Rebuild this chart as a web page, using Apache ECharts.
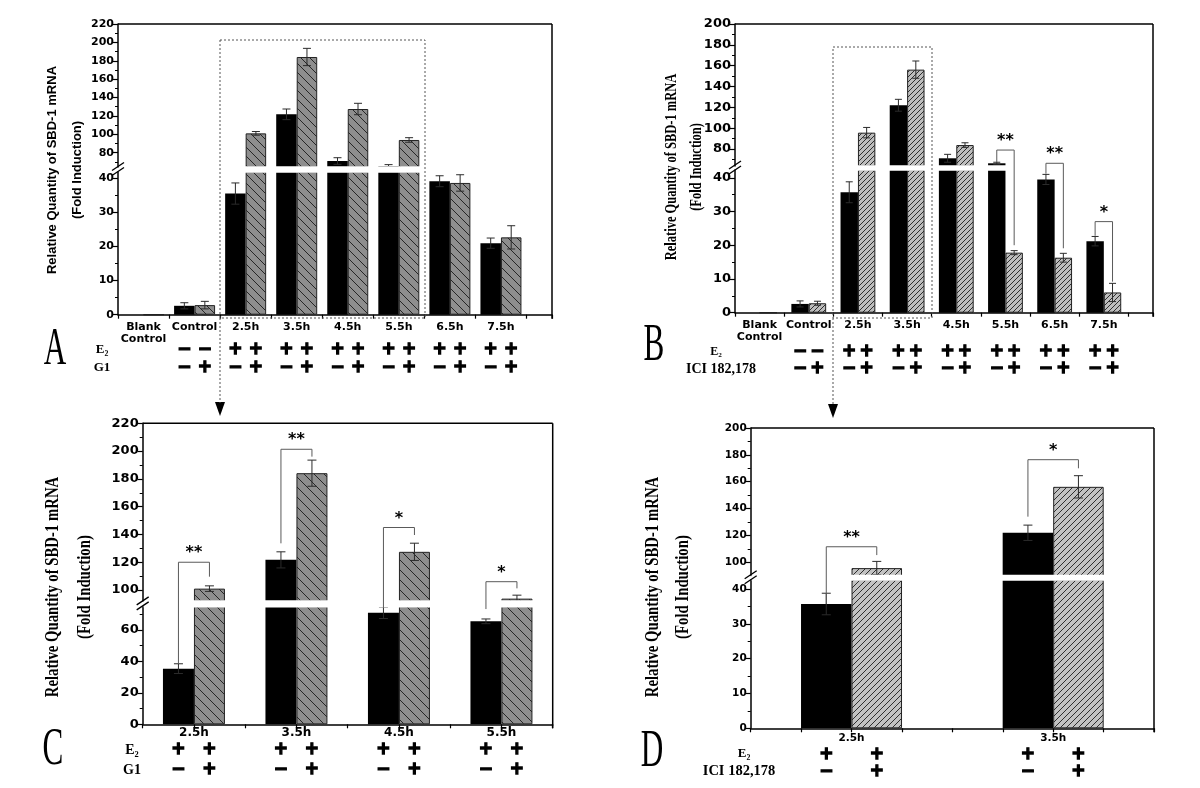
<!DOCTYPE html>
<html>
<head>
<meta charset="utf-8">
<script src="https://cdn.jsdelivr.net/npm/echarts@6/dist/echarts.min.js"></script>
<style>
html, body { margin: 0; padding: 0; background: #fff; }
#main { width: 1200px; height: 788px; }
</style>
</head>
<body>
<div id="main"></div>
<script>
// categories
var timeCats = ['Blank\nControl', 'Control', '2.5h', '3.5h', '4.5h', '5.5h', '6.5h', '7.5h'];

// E2 +/- G1 (panels A and C)
var g1Black = [0, 2.6, 35.4, 121.7, 70.9, 65.5, 39.0, 20.9];
var g1BlackErr = [0, 0.9, 3.1, 5.8, 3.6, 1.5, 1.6, 1.5];
var g1Hatch = [0, 2.8, 101, 184.1, 127.5, 93.8, 38.5, 22.6];
var g1HatchErr = [0, 1.1, 2, 9.4, 6.2, 2.5, 2.4, 3.4];

// E2 +/- ICI 182,178 (panels B and D)
var iciBlack = [0, 2.6, 35.7, 122, 71.1, 66.3, 39.5, 21.2];
var iciBlackErr = [0, 0.9, 3.1, 5.7, 3.8, 1, 1.5, 1.4];
var iciHatch = [0, 2.8, 95.7, 156.2, 83.8, 17.8, 16.3, 6.0];
var iciHatchErr = [0, 0.6, 5, 8.3, 2.2, 0.6, 1.3, 2.7];

// treatment rows under the axis
var e2Row = [['', ''], ['\u2212', '\u2212'], ['+', '+'], ['+', '+'], ['+', '+'], ['+', '+'], ['+', '+'], ['+', '+']];
var drugRow = [['', ''], ['\u2212', '+'], ['\u2212', '+'], ['\u2212', '+'], ['\u2212', '+'], ['\u2212', '+'], ['\u2212', '+'], ['\u2212', '+']];

// tick labels
var upTicksA = [80, 100, 120, 140, 160, 180, 200, 220];
var lowTicksA = [0, 10, 20, 30, 40];
var upTicksB = [80, 100, 120, 140, 160, 180, 200];
var lowTicksB = [0, 10, 20, 30, 40];
var upTicksC = [100, 120, 140, 160, 180, 200, 220];
var lowTicksC = [0, 20, 40, 60];
var upTicksD = [100, 120, 140, 160, 180, 200];
var lowTicksD = [0, 10, 20, 30, 40];

// significance brackets: [category, level, left foot, right foot, stars]
var bracketsB = [[5, 79, 67.5, 20, '**'], [6, 66.3, 41.2, 19.1, '**'], [7, 27, 22.8, 9.2, '*']];
var bracketsC = [[0, 120, 38.6, 109.6, '**'], [1, 201.3, 133.6, 196, '**'], [2, 145, 74, 139.6, '*'], [3, 106, 73.3, 101.2, '*']];
var bracketsD = [[0, 111.6, 35.7, 105.4, '**'], [1, 176.4, 134, 170, '*']];

function hatch(bg, fg, step, forward) {
    var c = document.createElement('canvas');
    c.width = step; c.height = step;
    var ctx = c.getContext('2d');
    ctx.fillStyle = bg;
    ctx.fillRect(0, 0, step, step);
    ctx.strokeStyle = fg;
    ctx.lineWidth = 1;
    ctx.beginPath();
    if (forward) {
        ctx.moveTo(-1, step + 1); ctx.lineTo(step + 1, -1);
        ctx.moveTo(-2, 2); ctx.lineTo(2, -2);
        ctx.moveTo(step - 2, step + 2); ctx.lineTo(step + 2, step - 2);
    } else {
        ctx.moveTo(-1, -1); ctx.lineTo(step + 1, step + 1);
        ctx.moveTo(-2, step - 2); ctx.lineTo(2, step + 2);
        ctx.moveTo(step - 2, -2); ctx.lineTo(step + 2, 2);
    }
    ctx.stroke();
    return c;
}

function steps(from, to, d) {
    var out = [];
    for (var v = from; v <= to + 1e-9; v += d) out.push(Math.round(v * 100) / 100);
    return out;
}

function minorOf(ticks, min, max) {
    var d = ticks[1] - ticks[0], out = [];
    ticks.concat([ticks[0] - d]).forEach(function (t) {
        var m = t + d / 2;
        if (m > min && m < max) out.push(m);
    });
    return out;
}

var panels = [
    {   // A
        left: 118, right: 552, upTop: 24, upBottom: 167, lowTop: 172, lowBottom: 314.7,
        upMin: 64.4, upMax: 220, lowMax: 41.7, xMax: 8, xTicks: steps(-0.5, 7.5, 1).concat([8]),
        barPx: 20.5, cap: 4, cats: timeCats, idx: [0, 8],
        black: g1Black, blackErr: g1BlackErr, hat: g1Hatch, hatErr: g1HatchErr,
        upTicks: upTicksA, lowTicks: lowTicksA, tickFont: 11, catFont: 11, catMargin: 6,
        pattern: hatch('#8e8e8e', '#262626', 9, false), brackets: [],
        rowY: [350, 368], drug: 'G1'
    },
    {   // B
        left: 735, right: 1153, upTop: 24, upBottom: 166, lowTop: 170, lowBottom: 312.7,
        upMin: 63.7, upMax: 200, lowMax: 42.3, xMax: 8, xTicks: steps(-0.5, 7.5, 1).concat([8]),
        barPx: 17.4, cap: 3.5, cats: timeCats, idx: [0, 8],
        black: iciBlack, blackErr: iciBlackErr, hat: iciHatch, hatErr: iciHatchErr,
        upTicks: upTicksB, lowTicks: lowTicksB, tickFont: 13, catFont: 11, catMargin: 6,
        pattern: hatch('#bdbdbd', '#2e2e2e', 5, true), brackets: bracketsB,
        rowY: [352, 369], drug: 'ICI 182,178'
    },
    {   // C
        left: 142.7, right: 552.7, upTop: 423.3, upBottom: 601, lowTop: 606.7, lowBottom: 724.3,
        upMin: 92.1, upMax: 220, lowMax: 74.8, xMax: 3.5, xTicks: steps(-0.5, 3.5, 0.5),
        barPx: 31, cap: 4.5, cats: timeCats.slice(2, 6), idx: [2, 6],
        black: g1Black, blackErr: g1BlackErr, hat: g1Hatch, hatErr: g1HatchErr,
        upTicks: upTicksC, lowTicks: lowTicksC, tickFont: 13, catFont: 12, catMargin: 2,
        pattern: hatch('#8e8e8e', '#262626', 10, false), brackets: bracketsC,
        rowY: [750, 770], drug: 'G1'
    },
    {   // D
        left: 750.7, right: 1154, upTop: 428, upBottom: 575.5, lowTop: 580, lowBottom: 728.3,
        upMin: 90.2, upMax: 200, lowMax: 42.6, xMax: 1.5, xTicks: steps(-0.5, 1.5, 0.25),
        barPx: 50.5, cap: 4.5, cats: timeCats.slice(2, 4), idx: [2, 4],
        black: iciBlack, blackErr: iciBlackErr, hat: iciHatch, hatErr: iciHatchErr,
        upTicks: upTicksD, lowTicks: lowTicksD, tickFont: 10.5, catFont: 10.5, catMargin: 4,
        pattern: hatch('#c2c2c2', '#2e2e2e', 6, true), brackets: bracketsD,
        rowY: [755, 772], drug: 'ICI 182,178'
    }
];

function errRenderer(cap) {
    return function (params, api) {
        var x = api.value(0), v = api.value(1), e = api.value(2);
        var hi = api.coord([x, v + e]), lo = api.coord([x, v - e]);
        function seg(x1, y1, x2, y2) {
            return { type: 'line', shape: { x1: x1, y1: y1, x2: x2, y2: y2 }, style: { stroke: '#2b2b2b', lineWidth: 1 } };
        }
        return {
            type: 'group',
            children: [
                seg(hi[0], hi[1], lo[0], lo[1]),
                seg(hi[0] - cap, hi[1], hi[0] + cap, hi[1]),
                seg(lo[0] - cap, lo[1], lo[0] + cap, lo[1])
            ]
        };
    };
}

var grids = [], xAxes = [], yAxes = [], series = [];

panels.forEach(function (p, k) {
    var black = p.black.slice(p.idx[0], p.idx[1]);
    var blackErr = p.blackErr.slice(p.idx[0], p.idx[1]);
    var hat = p.hat.slice(p.idx[0], p.idx[1]);
    var hatErr = p.hatErr.slice(p.idx[0], p.idx[1]);
    var width = p.right - p.left;
    var unit = p.barPx / (width / (p.xMax + 0.5));
    p.unit = unit;
    p.n = black.length;

    var parts = [
        { top: p.upTop, height: p.upBottom - p.upTop, min: p.upMin, max: p.upMax, ticks: p.upTicks, upper: true },
        { top: p.lowTop, height: p.lowBottom - p.lowTop, min: 0, max: p.lowMax, ticks: p.lowTicks, upper: false }
    ];
    parts.forEach(function (part, j) {
        var g = grids.length;
        grids.push({ left: p.left, top: part.top, width: width, height: part.height, show: false });
        var catVals = black.map(function (v, i) { return i; });
        xAxes.push({
            gridIndex: g, type: 'value', min: -0.5, max: p.xMax, show: !part.upper,
            axisLine: { onZero: false, lineStyle: { color: '#000', width: 1.5 } },
            axisTick: { customValues: p.xTicks, length: 4, lineStyle: { color: '#000', width: 1.2 } },
            axisLabel: {
                customValues: catVals, margin: p.catMargin, color: '#000',
                fontFamily: 'DejaVu Sans', fontWeight: 'bold', fontSize: p.catFont, lineHeight: p.catFont + 1,
                formatter: function (v) { return p.cats[Math.round(v)]; }
            },
            splitLine: { show: false }
        });
        var ya = yAxes.length;
        yAxes.push({
            gridIndex: g, type: 'value', position: 'left', min: part.min, max: part.max,
            axisLine: { show: true, onZero: false, lineStyle: { color: '#000', width: 1.5 } },
            axisTick: { customValues: part.ticks, length: 5, lineStyle: { color: '#000', width: 1.2 } },
            axisLabel: {
                customValues: part.ticks, margin: 4, color: '#000',
                fontFamily: 'DejaVu Sans', fontWeight: 'bold', fontSize: p.tickFont
            },
            splitLine: { show: false }
        });
        yAxes.push({
            gridIndex: g, type: 'value', position: 'left', min: part.min, max: part.max,
            axisLine: { show: false, onZero: false },
            axisTick: { customValues: minorOf(part.ticks, part.min, part.max), length: 3, lineStyle: { color: '#000', width: 1 } },
            axisLabel: { show: false },
            splitLine: { show: false }
        });

        function barData(vals) {
            return vals.map(function (v, i) {
                return [i, (part.upper && v <= p.upMin) ? '-' : v];
            });
        }
        series.push({
            type: 'bar', xAxisIndex: g, yAxisIndex: ya, barWidth: p.barPx, barGap: '0%', clip: true,
            data: barData(black), itemStyle: { color: '#000' }, silent: true
        });
        series.push({
            type: 'bar', xAxisIndex: g, yAxisIndex: ya, barWidth: p.barPx, barGap: '0%', clip: true,
            data: barData(hat), itemStyle: { color: { image: p.pattern, repeat: 'repeat' }, borderColor: '#222', borderWidth: 1 },
            silent: true
        });

        var errs = [];
        black.forEach(function (v, i) {
            if (blackErr[i] > 0 && (v > p.lowMax) === part.upper) errs.push([i - unit / 2, v, blackErr[i]]);
        });
        hat.forEach(function (v, i) {
            if (hatErr[i] > 0 && (v > p.lowMax) === part.upper) errs.push([i + unit / 2, v, hatErr[i]]);
        });
        series.push({
            type: 'custom', xAxisIndex: g, yAxisIndex: ya, clip: true, silent: true, z: 5,
            renderItem: errRenderer(p.cap), encode: { x: 0, y: 1 }, data: errs
        });
    });
});

var chart = echarts.init(document.getElementById('main'));
chart.setOption({
    animation: false,
    backgroundColor: '#fff',
    grid: grids,
    xAxis: xAxes,
    yAxis: yAxes,
    series: series
});

// decorations placed through the axes of each panel
function toPx(k, x, v) {
    var p = panels[k];
    var g = v > p.lowMax ? 2 * k : 2 * k + 1;
    return chart.convertToPixel({ gridIndex: g }, [x, v]);
}

function txt(x, y, text, size, family, weight, extra) {
    var el = {
        type: 'text', x: x, y: y, z: 100,
        style: {
            text: text, fill: '#000', fontSize: size, fontFamily: family, fontWeight: weight || 'normal',
            align: 'center', verticalAlign: 'middle', textAlign: 'center', textVerticalAlign: 'middle'
        }
    };
    if (extra) {
        for (var key in extra) {
            if (key === 'stroke') { el.style.stroke = '#000'; el.style.lineWidth = extra.stroke; }
            else el[key] = extra[key];
        }
    }
    return el;
}

function line(x1, y1, x2, y2, color, w, dash) {
    return {
        type: 'line', z: 100, shape: { x1: x1, y1: y1, x2: x2, y2: y2 },
        style: { stroke: color, lineWidth: w, lineDash: dash || null }
    };
}

var gfx = [];
panels.forEach(function (p, k) {
    // white band of the axis break, hiding the clipped bar edges
    gfx.push({
        type: 'rect', z: 50,
        shape: { x: p.left + 1, y: p.upBottom - 0.8, width: p.right - p.left - 2, height: p.lowTop - p.upBottom + 1.6 },
        style: { fill: '#fff' }
    });
    // frame top and right, axis break marks
    gfx.push(line(p.left, p.upTop, p.right, p.upTop, '#000', 1.5));
    gfx.push(line(p.right, p.upTop, p.right, p.lowBottom + 4, '#000', 1.5));
    var yc = (p.upBottom + p.lowTop) / 2;
    gfx.push(line(p.left - 6, yc + 1, p.left + 6, yc - 7, '#000', 1.3));
    gfx.push(line(p.left - 6, yc + 6, p.left + 6, yc - 2, '#000', 1.3));

    // +/- rows
    for (var i = 0; i < p.n; i++) {
        var src = i + p.idx[0];
        var c = chart.convertToPixel({ gridIndex: 2 * k + 1 }, [i, 0]);
        var half = p.barPx / 2;
        [0, 1].forEach(function (s) {
            var xx = c[0] + (s === 0 ? -half : half);
            if (e2Row[src][s]) gfx.push(txt(xx, p.rowY[0], e2Row[src][s], 17, 'DejaVu Sans', 'bold', { stroke: 1.3 }));
            if (drugRow[src][s]) gfx.push(txt(xx, p.rowY[1], drugRow[src][s], 17, 'DejaVu Sans', 'bold', { stroke: 1.3 }));
        });
    }

    // significance brackets
    p.brackets.forEach(function (b) {
        var xl = b[0] - p.unit / 2, xr = b[0] + p.unit / 2;
        var a = toPx(k, xl, b[2]), t1 = toPx(k, xl, b[1]), t2 = toPx(k, xr, b[1]), d = toPx(k, xr, b[3]);
        gfx.push({
            type: 'polyline', z: 100,
            shape: { points: [a, t1, t2, d] },
            style: { stroke: '#5a5a5a', lineWidth: 1, fill: null }
        });
        gfx.push(txt((t1[0] + t2[0]) / 2, t1[1] - 9, b[4], 16, 'DejaVu Sans', 'bold'));
    });
});

// axis titles
var yTitle = 'Relative Quantity of SBD-1 mRNA';
var ySub = '(Fold Induction)';
gfx.push(txt(52, 170, yTitle, 13, 'Liberation Sans', 'bold', { rotation: Math.PI / 2 }));
gfx.push(txt(77, 170, ySub, 13, 'Liberation Sans', 'bold', { rotation: Math.PI / 2 }));
gfx.push(txt(672, 167, yTitle, 16, 'Liberation Serif', 'bold', { rotation: Math.PI / 2, scaleX: 0.78 }));
gfx.push(txt(697, 167, ySub, 16, 'Liberation Serif', 'bold', { rotation: Math.PI / 2, scaleX: 0.78 }));
gfx.push(txt(53, 587, yTitle, 18, 'Liberation Serif', 'bold', { rotation: Math.PI / 2, scaleX: 0.82 }));
gfx.push(txt(85, 587, ySub, 18, 'Liberation Serif', 'bold', { rotation: Math.PI / 2, scaleX: 0.82 }));
gfx.push(txt(653, 587, yTitle, 18, 'Liberation Serif', 'bold', { rotation: Math.PI / 2, scaleX: 0.82 }));
gfx.push(txt(683, 587, ySub, 18, 'Liberation Serif', 'bold', { rotation: Math.PI / 2, scaleX: 0.82 }));

// row headers
gfx.push(txt(102, 350, 'E\u2082', 13, 'Liberation Serif', 'bold'));
gfx.push(txt(102, 368, 'G1', 13, 'Liberation Serif', 'bold'));
gfx.push(txt(716, 352, 'E\u2082', 12, 'Liberation Serif', 'bold'));
gfx.push(txt(721, 369, 'ICI 182,178', 14, 'Liberation Serif', 'bold'));
gfx.push(txt(132, 750, 'E\u2082', 14, 'Liberation Serif', 'bold'));
gfx.push(txt(132, 770, 'G1', 14, 'Liberation Serif', 'bold'));
gfx.push(txt(744, 754, 'E\u2082', 13, 'Liberation Serif', 'bold'));
gfx.push(txt(739, 771, 'ICI 182,178', 14.5, 'Liberation Serif', 'bold'));

// panel letters
[['A', 55, 350], ['B', 654, 346], ['C', 53, 750], ['D', 652, 752]].forEach(function (l) {
    gfx.push(txt(l[1], l[2], l[0], 52, 'Liberation Serif', 'normal', { scaleX: 0.6 }));
});

// dotted zoom boxes and arrows
function zoomBox(x, y, w, h, arrowTip) {
    gfx.push({ type: 'rect', z: 90, shape: { x: x, y: y, width: w, height: h }, style: { fill: null, stroke: '#555', lineWidth: 1, lineDash: [2, 2] } });
    gfx.push(line(x, y + h, x, arrowTip - 13, '#555', 1, [2, 2]));
    gfx.push({ type: 'polygon', z: 90, shape: { points: [[x - 5, arrowTip - 14], [x + 5, arrowTip - 14], [x, arrowTip]] }, style: { fill: '#000' } });
}
zoomBox(220, 40, 205, 278, 416);
zoomBox(833, 47, 99, 271, 418);

chart.setOption({ graphic: gfx });
</script>
</body>
</html>
